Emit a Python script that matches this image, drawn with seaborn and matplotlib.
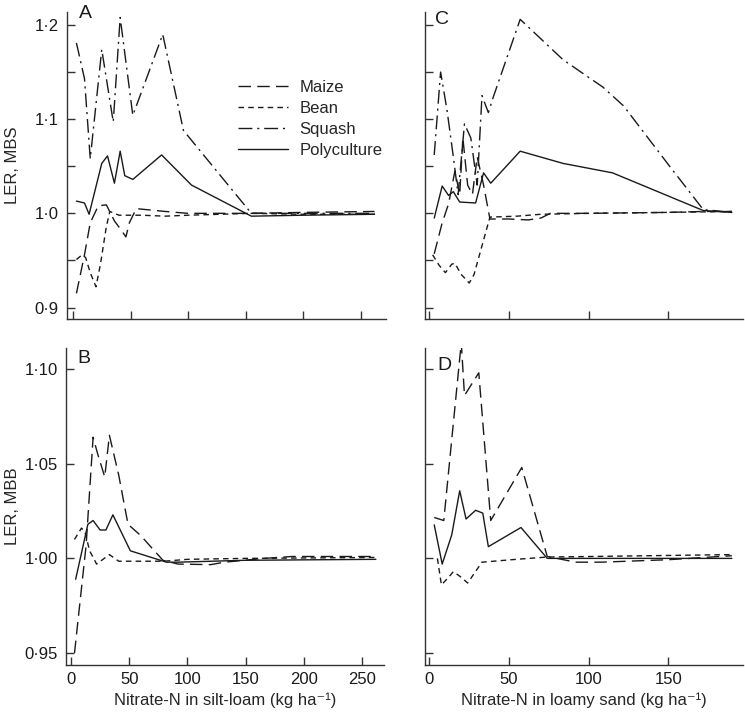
import pandas as pd
import numpy as np
import matplotlib.pyplot as plt
import seaborn as sns

# values
# Panel A : silt-loam, maize-bean-squash
A_maize_x = [3, 10, 15, 22, 29, 36, 42, 46, 49, 55, 80, 100, 155, 200, 262]
A_maize_y = [0.915, 0.956, 0.99, 1.008, 1.009, 0.992, 0.982, 0.975, 0.99, 1.005, 1.002, 1.0, 1.0, 1.001, 1.002]
A_bean_x = [3, 8, 11, 15, 20, 24, 29, 32, 40, 60, 80, 100, 155, 200, 262]
A_bean_y = [0.951, 0.956, 0.953, 0.937, 0.922, 0.947, 0.986, 1.002, 0.998, 0.998, 0.997, 0.998, 1.0, 0.999, 0.999]
A_squash_x = [3, 10, 15, 25, 35, 41, 52, 78, 96, 155, 200, 262]
A_squash_y = [1.181, 1.143, 1.058, 1.174, 1.097, 1.208, 1.104, 1.19, 1.088, 1.0, 1.0, 1.0]
A_poly_x = [3, 10, 14, 25, 30, 36, 41, 45, 52, 77, 103, 155, 200, 262]
A_poly_y = [1.013, 1.011, 0.999, 1.053, 1.061, 1.032, 1.066, 1.040, 1.036, 1.062, 1.030, 0.997, 0.998, 0.999]

# Panel B : silt-loam, maize-bean-bean
B_maize_x = [3, 13, 19, 23, 29, 33, 41, 49, 60, 79, 92, 120, 132, 166, 190, 262]
B_maize_y = [0.95, 1.007, 1.064, 1.055, 1.043, 1.065, 1.044, 1.018, 1.012, 0.999, 0.997, 0.9967, 0.998, 1.0, 1.001, 1.001]
B_bean_x = [3, 9, 12, 16, 22, 33, 41, 80, 100, 150, 262]
B_bean_y = [1.010, 1.016, 1.014, 1.004, 0.997, 1.002, 0.9985, 0.9985, 0.9995, 1.0, 1.0005]
B_poly_x = [4, 14.5, 19, 25, 30, 36, 51, 82, 92, 150, 262]
B_poly_y = [0.989, 1.018, 1.020, 1.015, 1.015, 1.023, 1.004, 0.998, 0.998, 0.999, 0.9995]

# Panel C : loamy sand, maize-bean-squash
C_maize_x = [3, 8, 12, 16, 19, 21, 24, 27, 30, 34, 38, 50, 62, 70, 76, 100, 150, 172, 190]
C_maize_y = [0.957, 0.99, 1.01, 1.045, 1.02, 1.08, 1.03, 1.02, 1.06, 1.03, 0.994, 0.994, 0.993, 0.995, 1.0, 1.0, 1.001, 1.002, 1.002]
C_bean_x = [2, 6, 10, 14, 16, 20, 25, 28, 38, 55, 70, 100, 150, 190]
C_bean_y = [0.956, 0.945, 0.937, 0.946, 0.947, 0.935, 0.926, 0.935, 0.996, 0.997, 0.999, 1.0, 1.001, 1.002]
C_squash_x = [3, 7, 11, 15, 18, 22, 26, 30, 33, 37, 40, 57, 84, 109, 122, 150, 172, 190]
C_squash_y = [1.062, 1.15, 1.11, 1.06, 1.02, 1.095, 1.08, 1.03, 1.125, 1.107, 1.123, 1.206, 1.163, 1.134, 1.114, 1.052, 1.004, 1.001]
C_poly_x = [3, 8, 12, 15, 19, 29, 34, 38.5, 57, 84, 115, 172, 190]
C_poly_y = [0.995, 1.029, 1.019, 1.023, 1.012, 1.011, 1.043, 1.032, 1.066, 1.053, 1.043, 1.003, 1.001]

# Panel D : loamy sand, maize-bean-bean
D_maize_x = [3, 9, 20, 22, 31, 38.5, 58, 74, 92, 108, 150, 190]
D_maize_y = [1.0216, 1.020, 1.114, 1.086, 1.098, 1.020, 1.048, 1.001, 0.998, 0.998, 0.9993, 1.0014]
D_bean_x = [5, 7.5, 12, 15, 20, 24, 33, 56, 74, 190]
D_bean_y = [1.0, 0.986, 0.990, 0.993, 0.99, 0.987, 0.998, 0.9996, 1.0007, 1.002]
D_poly_x = [3, 8, 14, 19, 23, 29, 33.5, 37, 57.5, 74, 190]
D_poly_y = [1.0177, 0.997, 1.0124, 1.0357, 1.0208, 1.0254, 1.0239, 1.0062, 1.0163, 1.0, 1.0]

crops = ['Maize', 'Bean', 'Squash', 'Polyculture']
dashes = {'Maize': (9, 4.5), 'Bean': (4, 3), 'Squash': (10, 3.5, 1.5, 3.5), 'Polyculture': ''}

sns.set_style('ticks')
plt.rcParams['font.family'] = ['Liberation Sans', 'DejaVu Sans']
plt.rcParams['font.size'] = 12

W, H = 745, 713
fig = plt.figure(figsize=(W / 100, H / 100), dpi=100)


def make_ax(x0, x1, ytop, ybot):
    return fig.add_axes([x0 / W, 1 - ybot / H, (x1 - x0) / W, (ybot - ytop) / H])


def draw(ax, series):
    frames = []
    for name, xs, ys in series:
        frames.append(pd.DataFrame({'N': xs, 'LER': ys, 'crop': name}))
    df = pd.concat(frames, ignore_index=True)
    order = [c for c in crops if c in df['crop'].unique()]
    sns.lineplot(data=df, x='N', y='LER', style='crop', style_order=order,
                 dashes=dashes, color='#1a1a1a', lw=1.0, estimator=None,
                 sort=False, legend=False, ax=ax)
    sns.despine(ax=ax)
    for s in ['left', 'bottom']:
        ax.spines[s].set_linewidth(1.0)
        ax.spines[s].set_color('#333333')
    ax.tick_params(direction='in', length=6, width=1.0, color='#333333',
                   labelsize=12, labelcolor='#1a1a1a')
    ax.tick_params(axis='y', pad=6)
    ax.tick_params(axis='x', pad=5)
    ax.set_xlabel('')
    ax.set_ylabel('')


axA = make_ax(67, 386, 12, 319)
axC = make_ax(425, 743, 12, 319)
axB = make_ax(66, 384, 348, 665)
axD = make_ax(425, 743, 348, 665)

draw(axA, [('Maize', A_maize_x, A_maize_y), ('Bean', A_bean_x, A_bean_y),
           ('Squash', A_squash_x, A_squash_y), ('Polyculture', A_poly_x, A_poly_y)])
draw(axC, [('Maize', C_maize_x, C_maize_y), ('Bean', C_bean_x, C_bean_y),
           ('Squash', C_squash_x, C_squash_y), ('Polyculture', C_poly_x, C_poly_y)])
draw(axB, [('Maize', B_maize_x, B_maize_y), ('Bean', B_bean_x, B_bean_y),
           ('Polyculture', B_poly_x, B_poly_y)])
draw(axD, [('Maize', D_maize_x, D_maize_y), ('Bean', D_bean_x, D_bean_y),
           ('Polyculture', D_poly_x, D_poly_y)])

# top row
top_ticks = [0.9, 0.95, 1.0, 1.05, 1.1, 1.15, 1.2]
top_labels = ['0·9', '', '1·0', '', '1·1', '', '1·2']
for ax in [axA, axC]:
    ax.set_ylim(0.8878, 1.2138)
    ax.set_yticks(top_ticks)
    ax.set_xticklabels([])
axA.set_yticklabels(top_labels)
axC.set_yticklabels([])
axA.set_xlim(-5.2, 272)
axA.set_xticks([0, 50, 100, 150, 200, 250])
axC.set_xlim(-2.8, 197)
axC.set_xticks([0, 50, 100, 150])
axA.set_xticklabels([])
axC.set_xticklabels([])

# bottom row
bot_ticks = [0.95, 1.0, 1.05, 1.1]
for ax in [axB, axD]:
    ax.set_ylim(0.9437, 1.1111)
    ax.set_yticks(bot_ticks)
axB.set_yticklabels(['0·95', '1·00', '1·05', '1·10'])
axD.set_yticklabels([])
axB.set_xlim(-4.3, 269)
axB.set_xticks([0, 50, 100, 150, 200, 250])
axB.set_xticklabels(['0', '50', '100', '150', '200', '250'])
axD.set_xlim(-2.8, 197)
axD.set_xticks([0, 50, 100, 150])
axD.set_xticklabels(['0', '50', '100', '150'])

axA.set_ylabel('LER, MBS', fontsize=12)
axA.yaxis.set_label_coords((20 - 67) / 319, 0.5)
axB.set_ylabel('LER, MBB', fontsize=12)
axB.yaxis.set_label_coords((20 - 66) / 318, 0.5)
axB.set_xlabel('Nitrate-N in silt-loam (kg ha⁻¹)', fontsize=12, labelpad=4)
axD.set_xlabel('Nitrate-N in loamy sand (kg ha⁻¹)', fontsize=12, labelpad=4)

# panel letters
for letter, px, py in [('A', 79, 13), ('C', 435, 20), ('B', 77, 358), ('D', 437, 365)]:
    fig.text(px / W, 1 - py / H, letter, fontsize=14, ha='left', va='center', color='#1a1a1a')

handles = axA.get_lines()[:4]
axA.legend(handles, crops, loc='upper left', bbox_to_anchor=(238 / W, 1 - 80 / H),
           bbox_transform=fig.transFigure, frameon=False, fontsize=12,
           handlelength=3.0, handletextpad=0.7, labelspacing=0.35, borderpad=0,
           borderaxespad=0)

fig.savefig('out.png', dpi=100)
